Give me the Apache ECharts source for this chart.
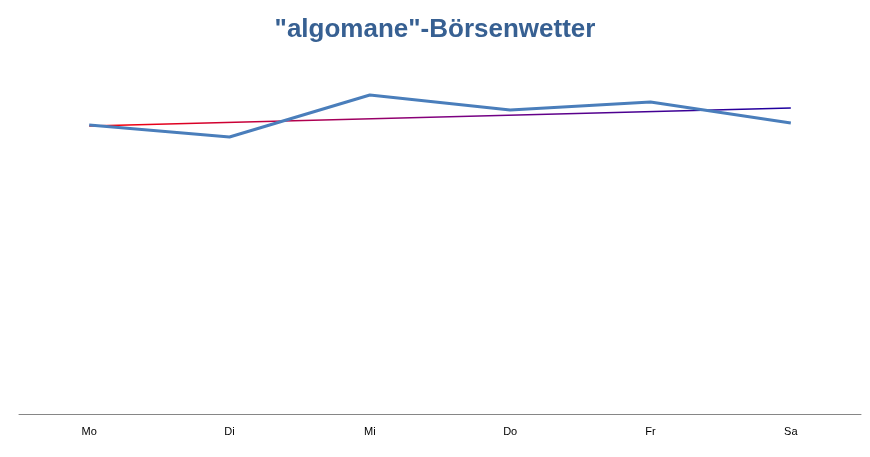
<!DOCTYPE html>
<html><head><meta charset="utf-8">
<script src="https://cdn.jsdelivr.net/npm/echarts@6/dist/echarts.min.js"></script>
<style>html,body{margin:0;padding:0;background:#fff}#c{width:870px;height:457px}</style>
</head><body><div id="c"></div>
<script>
const categories = ["Mo","Di","Mi","Do","Fr","Sa"];
const values = [289, 277, 319, 304, 312, 291];
const trend = [288, null, null, null, null, 306];
const chart = echarts.init(document.getElementById('c'));
chart.setOption({
  animation:false,
  title:{text:'"algomane"-Börsenwetter',left:'center',top:12,textStyle:{fontFamily:'Liberation Sans, Arial',fontSize:26,fontWeight:'bold',color:'#376092'}},
  grid:{left:19,right:9,top:14,bottom:43},
  xAxis:{type:'category',data:categories,boundaryGap:true,
    axisLine:{lineStyle:{color:'#868686',width:1}},axisTick:{show:false},
    axisLabel:{color:'#000',fontFamily:'Liberation Sans, Arial',fontSize:11,margin:12}},
  yAxis:{type:'value',min:0,max:400,show:false,splitLine:{show:false}},
  series:[
    {type:'line',data:trend,connectNulls:true,symbol:'none',z:1,
     lineStyle:{width:1.3,color:new echarts.graphic.LinearGradient(0,0,1,0,[{offset:0,color:'#ff0000'},{offset:0.5,color:'#800080'},{offset:1,color:'#1a00a0'}])}},
    {type:'line',data:values,symbol:'none',z:2,lineStyle:{width:3,color:'#4a7ebb'}}
  ]
});
</script></body></html>
